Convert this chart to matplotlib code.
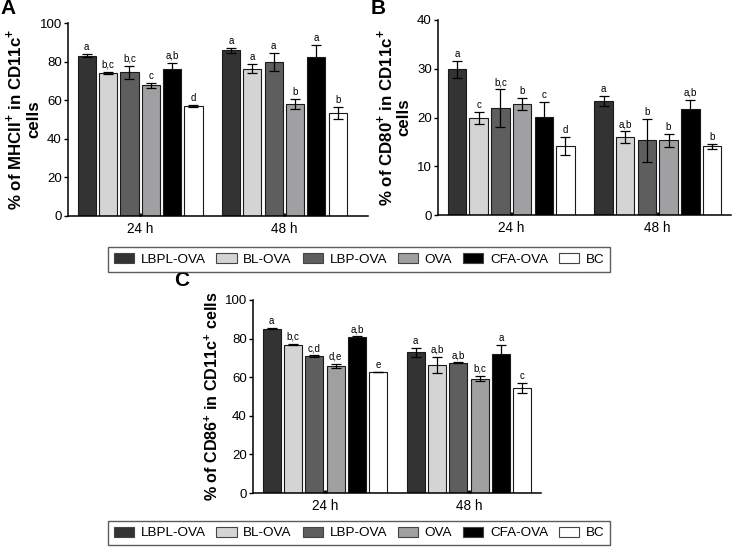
"""
Dendritic cell maturation markers - grouped bar panels A, B, C
"""

import numpy as np
import matplotlib
matplotlib.use("Agg")
import matplotlib.pyplot as plt
from matplotlib.patches import Patch


# ─────────────────────────────────────────────
# DATA
# ─────────────────────────────────────────────

groups = ["LBPL-OVA", "BL-OVA", "LBP-OVA", "OVA", "CFA-OVA", "BC"]
times = ["24 h", "48 h"]

# panel A: % of MHCII+ in CD11c+ cells
mhc_24 = [83.0, 74.2, 74.4, 67.7, 76.0, 57.0]
mhc_24_err = [0.8, 0.4, 3.5, 1.4, 3.4, 0.3]
mhc_48 = [85.8, 76.3, 79.8, 58.0, 82.6, 53.4]
mhc_48_err = [1.2, 2.3, 4.5, 2.8, 5.8, 3.1]
mhc_24_sig = ["a", "b,c", "b,c", "c", "a,b", "d"]
mhc_48_sig = ["a", "a", "a", "b", "a", "b"]

# panel B: % of CD80+ in CD11c+ cells
cd80_24 = [29.9, 19.9, 21.9, 22.7, 20.1, 14.1]
cd80_24_err = [1.7, 1.2, 3.9, 1.2, 3.0, 1.8]
cd80_48 = [23.4, 16.0, 15.3, 15.3, 21.7, 14.1]
cd80_48_err = [1.0, 1.2, 4.4, 1.4, 1.9, 0.5]
cd80_24_sig = ["a", "c", "b,c", "b", "c", "d"]
cd80_48_sig = ["a", "a,b", "b", "b", "a,b", "b"]

# panel C: % of CD86+ in CD11c+ cells
cd86_24 = [85.1, 76.9, 71.0, 65.8, 80.8, 62.7]
cd86_24_err = [0.3, 0.4, 0.4, 1.2, 0.4, 0.2]
cd86_48 = [72.9, 66.3, 67.4, 59.2, 72.0, 54.4]
cd86_48_err = [2.2, 4.2, 0.3, 1.4, 4.5, 2.6]
cd86_24_sig = ["a", "b,c", "c,d", "d,e", "a,b", "e"]
cd86_48_sig = ["a", "a,b", "a,b", "b,c", "a", "c"]

colors = ["#333333", "#d4d4d4", "#5e5e5e", "#a0a0a2", "#000000", "#ffffff"]

plt.rcParams["font.family"] = ["Liberation Sans", "DejaVu Sans"]
plt.rcParams["mathtext.fontset"] = "custom"
plt.rcParams["mathtext.rm"] = "Liberation Sans"
plt.rcParams["mathtext.bf"] = "Liberation Sans:bold"

W, H = 732, 548


def px_axes(fig, x0, x1, ytop, ybot):
    """Add axes from pixel coordinates (top-left origin)."""
    return fig.add_axes([x0 / W, 1 - ybot / H, (x1 - x0) / W, (ybot - ytop) / H])


def draw_panel(ax, vals, errs, sigs, ymax, yticks, xmax, ylabel, label_x, label_size):
    pitch, width = 0.148, 0.126
    for g, (v, e, s) in enumerate(zip(vals, errs, sigs)):
        for i in range(len(groups)):
            x = g + (i - 2.5) * pitch
            ax.bar(x, v[i], width=width, color=colors[i], edgecolor="#1a1a1a",
                   linewidth=0.8, zorder=2)
            ax.errorbar(x, v[i], yerr=e[i], fmt="none", ecolor="black",
                        elinewidth=0.9, capsize=3.4, capthick=0.9, zorder=3)
            ax.annotate(s[i], (x, v[i] + e[i]), xytext=(0, 1.5),
                        textcoords="offset points", ha="center", va="bottom",
                        fontsize=7)
    ax.set_xlim(-0.5, xmax)
    ax.set_ylim(0, ymax)
    ax.set_yticks(yticks)
    ax.set_xticks([0, 1])
    ax.set_xticklabels(times)
    for side in ["top", "right"]:
        ax.spines[side].set_visible(False)
    for side in ["left", "bottom"]:
        ax.spines[side].set_linewidth(1.1)
    ax.tick_params(axis="y", direction="out", length=3, width=1, pad=1.5,
                   labelsize=9.5)
    ax.tick_params(axis="x", direction="in", length=2.5, width=2, pad=4,
                   labelsize=9.8)
    ax.set_ylabel(ylabel, fontsize=label_size, fontweight="bold", linespacing=1.15)
    ax.yaxis.set_label_coords(label_x, 0.5)


# ─────────────────────────────────────────────
# FIGURE
# ─────────────────────────────────────────────

fig = plt.figure(figsize=(W / 100, H / 100), dpi=100)

plus = r"$^{\mathbf{+}}$"

axA = px_axes(fig, 68, 368, 23, 216)
draw_panel(axA, [mhc_24, mhc_48], [mhc_24_err, mhc_48_err],
           [mhc_24_sig, mhc_48_sig], 100, [0, 20, 40, 60, 80, 100], 1.58,
           f"% of MHCII{plus} in CD11c{plus}\ncells", -0.09, 12.2)

axB = px_axes(fig, 438, 731, 20, 215)
draw_panel(axB, [cd80_24, cd80_48], [cd80_24_err, cd80_48_err],
           [cd80_24_sig, cd80_48_sig], 40, [0, 10, 20, 30, 40], 1.5,
           f"% of CD80{plus} in CD11c{plus}\ncells", -0.09, 12.2)

axC = px_axes(fig, 253, 541, 300, 493)
draw_panel(axC, [cd86_24, cd86_48], [cd86_24_err, cd86_48_err],
           [cd86_24_sig, cd86_48_sig], 100, [0, 20, 40, 60, 80, 100], 1.5,
           f"% of CD86{plus} in CD11c{plus} cells", -0.11, 11.6)

# panel letters
fig.text(8 / W, 1 - 9 / H, "A", fontsize=15, fontweight="bold", ha="center", va="center")
fig.text(378 / W, 1 - 8 / H, "B", fontsize=15, fontweight="bold", ha="center", va="center")
fig.text(182 / W, 1 - 280 / H, "C", fontsize=15, fontweight="bold", ha="center", va="center")

# legends (one under the top row, one under panel C)
handles = [Patch(facecolor=c, edgecolor="#444444", linewidth=0.8, label=g)
           for c, g in zip(colors, groups)]
for yc in [259.5, 533]:
    leg = fig.legend(handles=handles, loc="center", ncol=6,
                     bbox_to_anchor=(359 / W, 1 - yc / H), fontsize=9.7,
                     frameon=True, fancybox=False, handlelength=1.5,
                     handleheight=0.75, handletextpad=0.5, columnspacing=0.8,
                     borderpad=0.45)
    leg.get_frame().set_edgecolor("#333333")
    leg.get_frame().set_linewidth(1.0)

plt.savefig("out.png", dpi=100)
